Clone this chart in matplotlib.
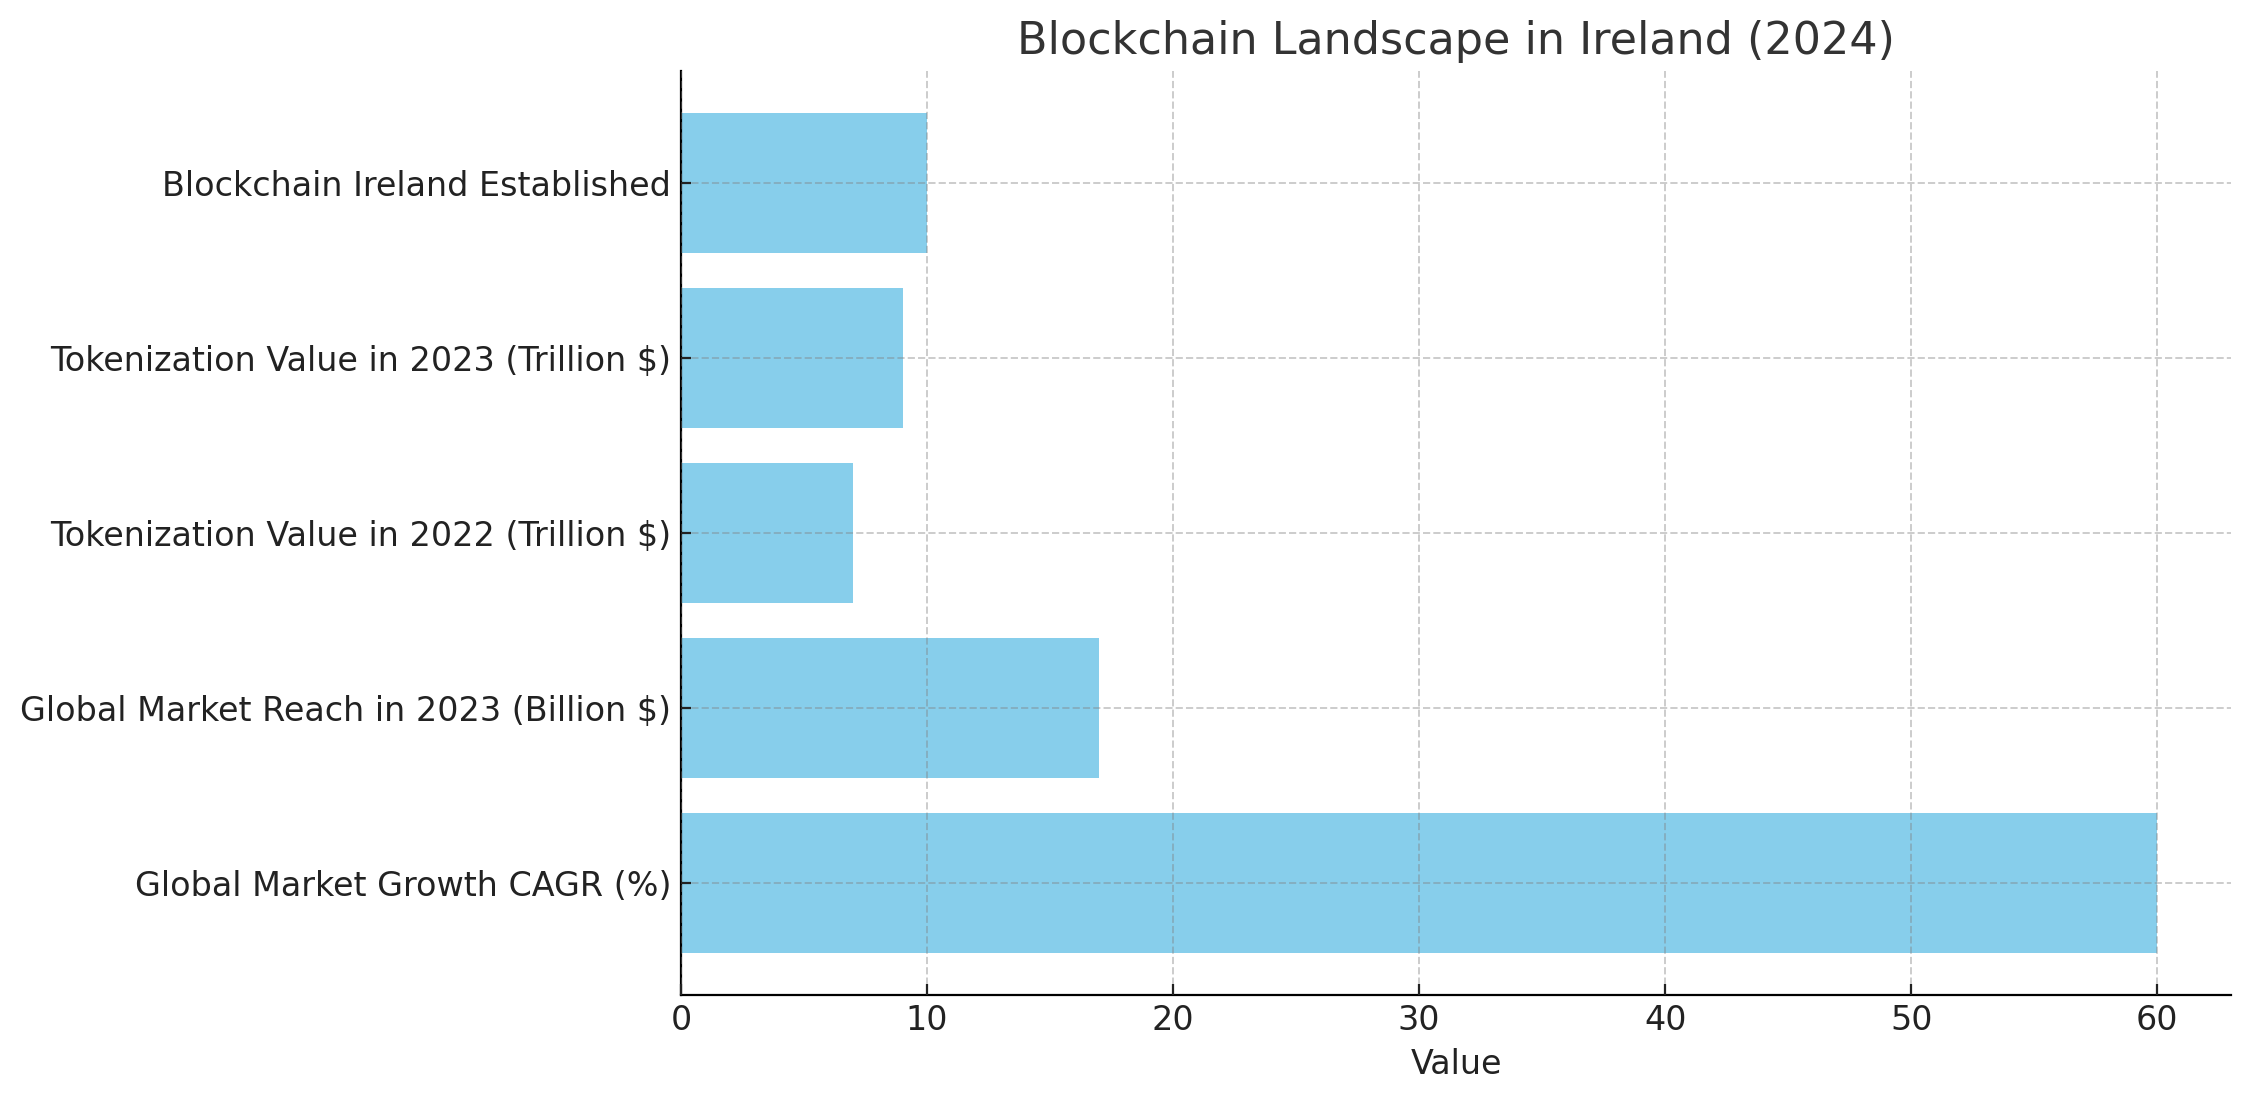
import matplotlib.pyplot as plt

categories = [
    "Global Market Growth CAGR (%)",
    "Global Market Reach in 2023 (Billion $)",
    "Tokenization Value in 2022 (Trillion $)",
    "Tokenization Value in 2023 (Trillion $)",
    "Blockchain Ireland Established",
]
values = [60, 17, 7, 9, 10]

fig = plt.figure(figsize=(11.25, 5.505), dpi=200)
ax = fig.add_axes([0.3027, 0.0967, 0.6889, 0.839])

ax.barh(categories, values, height=0.8, color="skyblue")

ax.set_title("Blockchain Landscape in Ireland (2024)", fontsize=16, color="#333333")
ax.set_xlabel("Value", fontsize=12, color="#222222")
ax.tick_params(axis="both", direction="in", labelsize=12, colors="#222222")
ax.tick_params(axis="x", length=4)
ax.grid(True, linestyle="--", color="gray", alpha=0.4, linewidth=0.7)
ax.set_axisbelow(False)
for side in ["top", "right"]:
    ax.spines[side].set_visible(False)

fig.savefig("out.png", dpi=200)
